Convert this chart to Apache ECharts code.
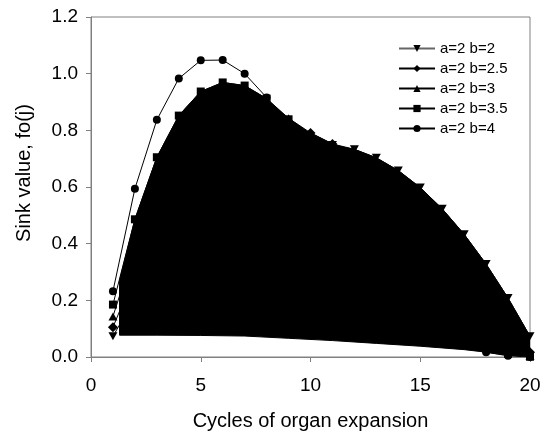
<!DOCTYPE html>
<html>
<head>
<meta charset="utf-8">
<script src="https://cdn.jsdelivr.net/npm/echarts@6/dist/echarts.min.js"></script>
<style>
  html, body { margin: 0; padding: 0; background: #fff; }
  #chart { width: 546px; height: 440px; }
</style>
</head>
<body>
<div id="chart"></div>
<script>
// cycles j = 1..20
const cycles = [1, 2, 3, 4, 5, 6, 7, 8, 9, 10, 11, 12, 13, 14, 15, 16, 17, 18, 19, 20];

// sink values (hidden parts estimated)
const sinkB2 = [0.073, 0.208, 0.328, 0.433, 0.523, 0.598, 0.658, 0.703, 0.733, 0.748, 0.748, 0.733, 0.703, 0.658, 0.598, 0.523, 0.433, 0.328, 0.208, 0.073];
const sinkB25 = [0.105, 0.292, 0.448, 0.574, 0.672, 0.743, 0.789, 0.811, 0.811, 0.791, 0.752, 0.697, 0.628, 0.547, 0.457, 0.362, 0.264, 0.169, 0.083, 0.017];
const sinkB3 = [0.143, 0.385, 0.574, 0.715, 0.811, 0.867, 0.888, 0.879, 0.843, 0.786, 0.711, 0.623, 0.527, 0.428, 0.329, 0.235, 0.152, 0.082, 0.031, 0.004];
const sinkB35 = [0.185, 0.486, 0.705, 0.852, 0.937, 0.969, 0.958, 0.912, 0.839, 0.747, 0.643, 0.533, 0.424, 0.320, 0.226, 0.147, 0.083, 0.038, 0.011, 0.001];
const sinkB4 = [0.232, 0.594, 0.837, 0.983, 1.047, 1.048, 1.000, 0.916, 0.808, 0.687, 0.563, 0.441, 0.330, 0.232, 0.151, 0.088, 0.044, 0.017, 0.004, 0.000];

// outline of the solid black region
const fillTopX = [1.3, 2, 3, 4, 5, 6, 7, 8, 9, 10, 11, 12, 13, 14, 15, 16, 17, 18, 19, 20];
const fillTopY = [0.27, 0.486, 0.705, 0.852, 0.937, 0.969, 0.958, 0.912, 0.843, 0.791, 0.752, 0.733, 0.703, 0.658, 0.598, 0.523, 0.433, 0.328, 0.208, 0.073];
const fillBottomX = [20, 19, 18, 17, 16, 15, 13, 11, 9, 7, 5, 3, 1.3];
const fillBottomY = [0.003, 0.006, 0.017, 0.026, 0.032, 0.038, 0.048, 0.058, 0.066, 0.074, 0.076, 0.077, 0.077];

const xTicks = [0, 5, 10, 15, 20];
const yTicks = [0, 0.2, 0.4, 0.6, 0.8, 1.0, 1.2];

const seriesNames = ['a=2 b=2', 'a=2 b=2.5', 'a=2 b=3', 'a=2 b=3.5', 'a=2 b=4'];
const seriesValues = [sinkB2, sinkB25, sinkB3, sinkB35, sinkB4];
const seriesSymbols = ['path://M0,0 L10,0 L5,9 Z', 'diamond', 'triangle', 'rect', 'circle'];
const seriesSymbolSizes = [[9, 8], [10, 10], [9, 8], [8, 8], [8, 8]];

const FONT = '"Liberation Sans", Arial, sans-serif';
const GRAY = '#808080';

const chart = echarts.init(document.getElementById('chart'));

const lineSeries = seriesNames.map((name, i) => ({
    name: name,
    type: 'line',
    data: cycles.map((c, k) => [c, seriesValues[i][k]]),
    symbol: seriesSymbols[i],
    symbolSize: seriesSymbolSizes[i],
    showAllSymbol: true,
    lineStyle: { color: '#000', width: 1 },
    itemStyle: { color: '#000' },
    emphasis: { disabled: true },
    z: 3
}));

// first legend entry has a grey line in the original
const legendData = seriesNames.map((name, i) => (
    i === 0 ? { name: name, lineStyle: { color: '#666' } } : { name: name }
));

const option = {
    animation: false,
    backgroundColor: '#fff',
    textStyle: { fontFamily: FONT },
    grid: {
        left: 91,
        right: 16,
        top: 17,
        bottom: 83,
        show: true,
        borderColor: GRAY,
        borderWidth: 1
    },
    legend: {
        orient: 'vertical',
        left: 393,
        top: 36,
        itemWidth: 36,
        itemHeight: 9,
        itemGap: 5,
        data: legendData,
        textStyle: { fontSize: 15, color: '#000', fontFamily: FONT }
    },
    xAxis: {
        type: 'value',
        min: xTicks[0],
        max: xTicks[xTicks.length - 1],
        interval: 5,
        name: 'Cycles of organ expansion',
        nameLocation: 'middle',
        nameGap: 54,
        nameTextStyle: { fontSize: 20, color: '#000', fontFamily: FONT },
        axisLine: { lineStyle: { color: GRAY } },
        axisTick: { length: 5, lineStyle: { color: GRAY } },
        axisLabel: { fontSize: 19, color: '#000', margin: 19, fontFamily: FONT },
        splitLine: { show: false }
    },
    yAxis: {
        type: 'value',
        min: yTicks[0],
        max: yTicks[yTicks.length - 1],
        interval: 0.2,
        name: 'Sink value, fo(j)',
        nameLocation: 'middle',
        nameGap: 57,
        nameTextStyle: { fontSize: 20, color: '#000', fontFamily: FONT, padding: [0, 0, 0, 28] },
        axisLine: { show: true, lineStyle: { color: GRAY } },
        axisTick: { show: true, length: 5, lineStyle: { color: GRAY } },
        axisLabel: {
            fontSize: 19,
            color: '#000',
            margin: 13,
            fontFamily: FONT,
            formatter: v => v.toFixed(1)
        },
        splitLine: { show: false }
    },
    series: [
        {
            type: 'custom',
            name: 'fill',
            clip: true,
            silent: true,
            z: 1,
            data: [[fillTopX[0], fillTopY[0]]],
            renderItem: function (params, api) {
                const pts = [];
                fillTopX.forEach((x, i) => pts.push(api.coord([x, fillTopY[i]])));
                fillBottomX.forEach((x, i) => pts.push(api.coord([x, fillBottomY[i]])));
                return {
                    type: 'polygon',
                    shape: { points: pts },
                    style: { fill: '#000', stroke: '#000', lineWidth: 1 }
                };
            }
        }
    ].concat(lineSeries)
};

chart.setOption(option);
</script>
</body>
</html>
